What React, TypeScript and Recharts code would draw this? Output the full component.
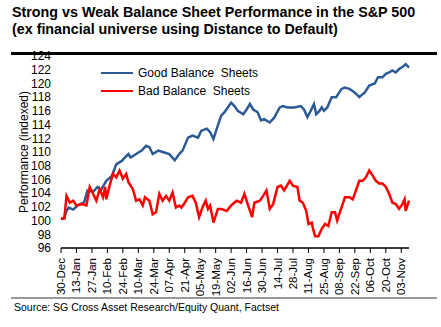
import { Line, LineChart, XAxis, YAxis } from "recharts";

// days since 30-Dec
const goodDays = [0, 3, 5, 7, 11, 15, 21, 24, 29, 33, 36, 41, 46, 50, 55, 58, 61, 63, 68, 73, 77, 80, 83, 88, 92, 98, 103, 107, 110, 115, 119, 124, 127, 132, 135, 138, 141, 145, 148, 154, 157, 160, 165, 168, 171, 174, 178, 181, 184, 189, 193, 198, 201, 205, 211, 217, 220, 223, 226, 229, 231, 234, 236, 238, 241, 245, 249, 254, 257, 261, 264, 267, 270, 275, 279, 284, 287, 291, 294, 297, 300, 303, 306, 309, 312, 315];
const goodValues = [100.2, 100.4, 101.4, 101.9, 101.6, 102.2, 102.7, 104.4, 104.2, 104.9, 104.4, 105.8, 106.5, 108.2, 108.7, 109.2, 109.7, 109.2, 109.7, 110.2, 110.9, 110.7, 109.7, 110.2, 110.0, 109.7, 108.8, 109.7, 110.2, 112.1, 112.4, 112.1, 113.1, 113.4, 112.9, 111.9, 113.4, 115.3, 115.8, 117.2, 116.7, 116.0, 115.5, 116.2, 117.0, 116.2, 115.8, 114.6, 114.8, 114.3, 115.0, 116.5, 116.7, 116.5, 116.5, 116.7, 116.2, 115.1, 116.0, 117.0, 115.5, 116.0, 116.5, 116.0, 116.5, 118.0, 118.0, 119.2, 119.4, 119.2, 118.9, 118.5, 118.0, 118.7, 119.7, 120.0, 120.9, 120.9, 121.4, 121.6, 121.9, 121.6, 122.1, 122.4, 122.8, 122.3];

const badDays = [0, 3, 5, 8, 11, 14, 19, 23, 26, 29, 32, 35, 38, 40, 41, 44, 47, 50, 53, 56, 59, 61, 65, 68, 71, 74, 76, 80, 83, 86, 89, 92, 95, 98, 101, 104, 107, 109, 112, 115, 119, 122, 125, 128, 131, 133, 135, 138, 142, 145, 150, 154, 159, 163, 166, 169, 173, 175, 180, 183, 186, 189, 192, 196, 199, 202, 207, 210, 214, 216, 219, 222, 224, 227, 228, 230, 233, 236, 239, 242, 245, 248, 250, 252, 255, 257, 261, 264, 267, 270, 273, 276, 279, 282, 285, 288, 291, 294, 297, 300, 303, 306, 309, 311, 312, 315];
const badValues = [100.3, 100.3, 103.6, 102.6, 102.9, 102.2, 102.4, 102.2, 104.9, 103.9, 102.9, 104.6, 103.4, 104.9, 103.1, 105.1, 106.8, 106.3, 107.3, 106.1, 106.8, 105.6, 104.6, 102.9, 103.1, 102.2, 103.4, 102.9, 100.9, 101.2, 103.9, 102.9, 103.6, 102.9, 104.1, 101.9, 102.2, 101.9, 102.6, 103.4, 103.6, 102.6, 100.5, 101.9, 102.9, 101.7, 102.2, 99.7, 101.7, 101.7, 101.4, 102.2, 102.9, 102.6, 103.9, 102.4, 100.5, 102.6, 102.9, 103.6, 104.4, 101.7, 102.4, 104.9, 105.1, 104.4, 105.8, 105.1, 104.9, 102.9, 102.6, 101.4, 99.5, 99.7, 98.9, 97.7, 97.7, 98.8, 99.5, 99.2, 101.2, 101.2, 100.0, 101.0, 102.4, 103.4, 103.4, 103.1, 104.4, 105.8, 105.8, 106.3, 107.3, 106.6, 105.8, 105.4, 105.4, 104.9, 103.9, 102.6, 102.4, 101.7, 102.4, 103.1, 101.4, 102.9];

const tickLabels = ["30-Dec", "13-Jan", "27-Jan", "10-Feb", "24-Feb", "10-Mar", "24-Mar", "07-Apr", "21-Apr", "05-May", "19-May", "02-Jun", "16-Jun", "30-Jun", "14-Jul", "28-Jul", "11-Aug", "25-Aug", "08-Sep", "22-Sep", "06-Oct", "20-Oct", "03-Nov"];
const yTicks = [96, 98, 100, 102, 104, 106, 108, 110, 112, 114, 116, 118, 120, 122, 124];

const goodData = goodDays.map((d, i) => ({ day: d, value: goodValues[i] }));
const badData = badDays.map((d, i) => ({ day: d, value: badValues[i] }));
const xTicks = tickLabels.map((_, i) => i * 14);

const FONT = "'Liberation Sans', Arial, sans-serif";
const BLUE = "#2B5B97";
const RED = "#FF0000";

const DateTick = ({ x, y, payload }: any) => (
  <text
    x={x}
    y={y + 3}
    transform={`rotate(-90, ${x}, ${y + 3})`}
    textAnchor="end"
    dominantBaseline="central"
    fontSize={11.5}
    fontFamily={FONT}
    fill="#000"
  >
    {tickLabels[Math.round(payload.value / 14)]}
  </text>
);

const legendItems = [
  { name: "Good Balance  Sheets", color: BLUE },
  { name: "Bad Balance  Sheets", color: RED },
];

const App = () => {
  return (
    <div style={{ position: "absolute", left: 0, top: 0, width: 441, height: 327, background: "#fff", fontFamily: FONT }}>
      <div style={{ position: "absolute", left: 12, top: 4, fontSize: 14.3, fontWeight: "bold", lineHeight: "17px", color: "#000" }}>
        Strong vs Weak Balance Sheet Performance in the S&amp;P 500
        <br />
        (ex financial universe using Distance to Default)
      </div>
      <div style={{ position: "absolute", left: 11, top: 52, width: 426, height: 3, background: "#000" }} />
      <LineChart
        width={441}
        height={327}
        margin={{ top: 56, right: 32, left: 11, bottom: 34 }}
        style={{ position: "absolute", left: 0, top: 0 }}
      >
        <XAxis
          dataKey="day"
          type="number"
          domain={[0, 315]}
          ticks={xTicks}
          interval={0}
          height={45}
          tick={<DateTick />}
          tickSize={5}
          axisLine={{ stroke: "#000", strokeWidth: 1.5 }}
          tickLine={{ stroke: "#000" }}
          allowDuplicatedCategory={false}
        />
        <YAxis
          type="number"
          domain={[96, 124]}
          ticks={yTicks}
          interval={0}
          width={50}
          axisLine={false}
          tickLine={false}
          tickSize={6}
          tickMargin={4}
          tick={{ fontSize: 12, fill: "#000", fontFamily: FONT }}
          label={{
            value: "Performance (indexed)",
            angle: -90,
            position: "insideLeft",
            dx: 8,
            style: { textAnchor: "middle", fontSize: 12, fill: "#000", fontFamily: FONT },
          }}
        />
        <Line
          data={goodData}
          dataKey="value"
          type="linear"
          stroke={BLUE}
          strokeWidth={2.5}
          dot={false}
          isAnimationActive={false}
        />
        <Line
          data={badData}
          dataKey="value"
          type="linear"
          stroke={RED}
          strokeWidth={2.5}
          dot={false}
          isAnimationActive={false}
        />
      </LineChart>
      <div style={{ position: "absolute", left: 101, top: 64, fontSize: 12, color: "#000", lineHeight: "18px" }}>
        {legendItems.map((it) => (
          <div key={it.name} style={{ display: "flex", alignItems: "center", whiteSpace: "pre" }}>
            <span style={{ display: "inline-block", width: 32, height: 2.5, background: it.color, marginRight: 5 }} />
            {it.name}
          </div>
        ))}
      </div>
      <div style={{ position: "absolute", left: 11, top: 297, width: 426, height: 1.5, background: "#999" }} />
      <div style={{ position: "absolute", left: 14, top: 301, fontSize: 10.5, color: "#000" }}>
        Source: SG Cross Asset Research/Equity Quant, Factset
      </div>
    </div>
  );
};

export default App;
